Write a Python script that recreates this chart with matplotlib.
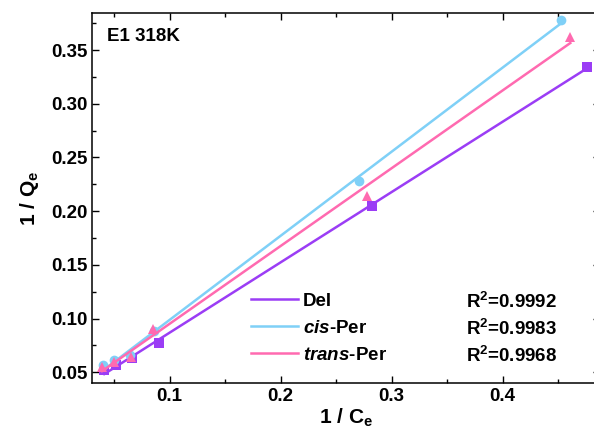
import numpy as np
import matplotlib
matplotlib.use('Agg')
import matplotlib.pyplot as plt
from matplotlib.lines import Line2D

plt.rcParams['font.family'] = ['Liberation Sans', 'DejaVu Sans']
plt.rcParams['font.weight'] = 'bold'
plt.rcParams['mathtext.fontset'] = 'custom'
plt.rcParams['mathtext.rm'] = 'Liberation Sans:bold'
plt.rcParams['mathtext.it'] = 'Liberation Sans:italic:bold'

# data (1/Ce, 1/Qe)
del_x = [0.041, 0.052, 0.066, 0.090, 0.282, 0.476]
del_y = [0.052, 0.057, 0.063, 0.077, 0.205, 0.334]
cis_x = [0.040, 0.050, 0.064, 0.086, 0.271, 0.453]
cis_y = [0.057, 0.061, 0.066, 0.088, 0.228, 0.378]
trans_x = [0.039, 0.050, 0.065, 0.085, 0.278, 0.461]
trans_y = [0.055, 0.060, 0.064, 0.090, 0.214, 0.362]

series_names = ['Del', r'$\mathit{cis}$-Per', r'$\mathit{trans}$-Per']
r2_labels = ['0.9992', '0.9983', '0.9968']
colors = ['#9B3DF5', '#7FD0F7', '#FF6AB0']
markers = ['s', 'o', '^']

fs = 13.5

fig = plt.figure(figsize=(5.94, 4.41), dpi=100)
ax = fig.add_axes([0.155, 0.1315, 0.855, 0.839])

handles = []
for xs, ys, c, m in zip([del_x, cis_x, trans_x], [del_y, cis_y, trans_y], colors, markers):
    xs = np.array(xs)
    ys = np.array(ys)
    ax.plot(xs, ys, linestyle='none', marker=m, color=c, markersize=7, markeredgewidth=0)
    # linear fit drawn across the data range
    k, b = np.polyfit(xs, ys, 1)
    xf = np.array([xs.min(), xs.max()])
    ax.plot(xf, k * xf + b, color=c, linewidth=1.8)
    handles.append(Line2D([], [], color=c, linewidth=1.8))

ax.set_xlim(0.03, 0.4877)
ax.set_ylim(0.04, 0.3845)
ax.set_xticks([0.1, 0.2, 0.3, 0.4])
ax.set_xticks(np.arange(0.05, 0.49, 0.05), minor=True)
ax.set_yticks([0.05, 0.10, 0.15, 0.20, 0.25, 0.30, 0.35])
ax.set_yticks(np.arange(0.05, 0.38, 0.025), minor=True)
ax.xaxis.set_major_formatter(matplotlib.ticker.FormatStrFormatter('%.1f'))
ax.yaxis.set_major_formatter(matplotlib.ticker.FormatStrFormatter('%.2f'))
ax.tick_params(which='both', direction='in', top=True, right=True, labelsize=fs, width=1)
ax.tick_params(which='major', length=5)
ax.tick_params(which='minor', length=3)
for s in ax.spines.values():
    s.set_linewidth(1.1)

ax.set_xlabel(r'1 / C$_{\rm e}$', fontsize=15, fontweight='bold', labelpad=1)
ax.set_ylabel(r'1 / Q$_{\rm e}$', fontsize=15, fontweight='bold', labelpad=7)

ax.text(0.03, 0.96, 'E1 318K', transform=ax.transAxes, fontsize=fs,
        fontweight='bold', va='top', ha='left')

ax.legend(handles, series_names, loc='upper left', bbox_to_anchor=(0.313, 0.244),
          frameon=False, fontsize=fs, handlelength=2.5, handletextpad=0.25,
          labelspacing=0.53, borderpad=0, borderaxespad=0)

for i, r2 in enumerate(r2_labels):
    ax.text(0.737, 0.219 - i * 0.073, r'R$^{\rm 2}$=' + r2, transform=ax.transAxes,
            fontsize=fs, fontweight='bold', va='center', ha='left')

fig.savefig('out.png', dpi=100)
